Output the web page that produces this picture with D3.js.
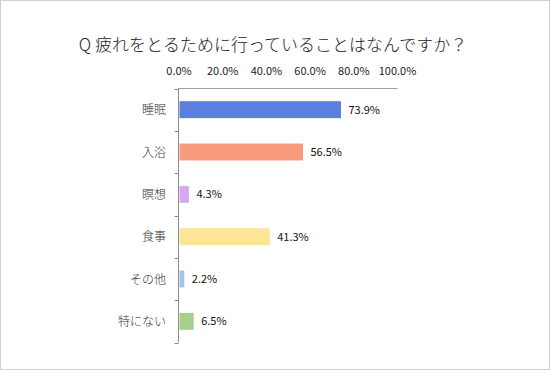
<!DOCTYPE html>
<html><head><meta charset="utf-8">
<script src="https://cdn.jsdelivr.net/npm/d3@7"></script>
<style>
html,body{margin:0;padding:0;background:#fff;}
svg{display:block;font-family:"Noto Sans CJK JP","Noto Sans",sans-serif;}
</style></head>
<body><svg id="c" width="550" height="370"></svg>
<script>
const title = "Q 疲れをとるために行っていることはなんですか？";
const categories = ["睡眠","入浴","瞑想","食事","その他","特にない"];
const values = [73.9, 56.5, 4.3, 41.3, 2.2, 6.5];
const colors = ["#5b7fdc","#f99c7d","#d5a9f2","#fde598","#a3c3e8","#a8d08d"];
const tickValues = [0,20,40,60,80,100];

const svg = d3.select("#c");
svg.append("rect").attr("x",0.5).attr("y",0.5).attr("width",549).attr("height",369)
  .attr("fill","#fff").attr("stroke","#cfcfcf");

svg.append("text").attr("x",273).attr("y",51).attr("text-anchor","middle")
  .attr("font-size",17).attr("font-weight",300).attr("fill","#222").text(title);

const x = d3.scaleLinear().domain([0,100]).range([179,397.5]);
const y = d3.scaleBand().domain(categories).range([88.5,342.5]).paddingInner(0.6).paddingOuter(0.3);
const band = d3.scaleBand().domain(categories).range([88.5,342.5]);

// top axis labels
svg.append("g").selectAll("text").data(tickValues).join("text")
  .attr("x",d=>x(d)).attr("y",75).attr("text-anchor","middle")
  .attr("font-size",11).attr("fill","#222")
  .text(d=>d.toFixed(1)+"%");
// top axis line
svg.append("line").attr("x1",x(0)-0.5).attr("x2",x(100)).attr("y1",88.5).attr("y2",88.5)
  .attr("stroke","#a0a0a0");

// left axis line and ticks
svg.append("line").attr("x1",178.5).attr("x2",178.5).attr("y1",88.5).attr("y2",342.5)
  .attr("stroke","#8c8c8c");
const bounds = categories.map(c=>band(c)).concat([band.range()[1]]);
svg.append("g").selectAll("line").data(bounds).join("line")
  .attr("x1",174.5).attr("x2",178.5).attr("y1",d=>Math.round(d)+0.5).attr("y2",d=>Math.round(d)+0.5)
  .attr("stroke","#8c8c8c");

// bars
svg.append("g").selectAll("rect").data(categories).join("rect")
  .attr("x",x(0)+0.5).attr("y",d=>y(d)).attr("height",y.bandwidth())
  .attr("width",(d,i)=>x(values[i])-x(0)).attr("fill",(d,i)=>colors[i]);

// category labels
svg.append("g").selectAll("text").data(categories).join("text")
  .attr("x",166).attr("y",d=>y(d)+y.bandwidth()/2+4.5).attr("text-anchor","end")
  .attr("font-size",12).attr("font-weight",300).attr("fill","#333").text(d=>d);

// value labels
svg.append("g").selectAll("text").data(categories).join("text")
  .attr("x",(d,i)=>x(values[i])+8).attr("y",d=>y(d)+y.bandwidth()/2+4)
  .attr("font-size",11).attr("fill","#111").text((d,i)=>values[i].toFixed(1)+"%");
</script></body></html>
